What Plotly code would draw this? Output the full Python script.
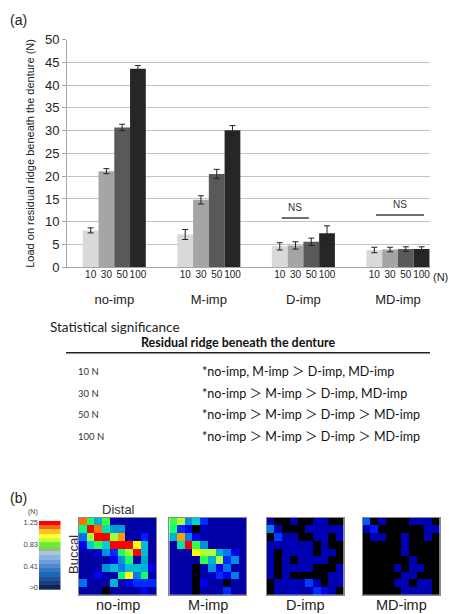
import numpy as np
import plotly.graph_objects as go

W, H = 449, 614

# ---------------- data: bar chart ----------------
groups = ['no-imp', 'M-imp', 'D-imp', 'MD-imp']
loads = ['10', '30', '50', '100']
load_colors = ['#d9d9d9', '#a5a5a5', '#595959', '#262626']
mean_10 = [8.1, 7.2, 4.6, 3.8]
mean_30 = [21.1, 14.8, 4.8, 3.9]
mean_50 = [30.7, 20.5, 5.6, 4.0]
mean_100 = [43.6, 30.1, 7.5, 4.0]
err_10 = [0.55, 1.1, 0.8, 0.6]
err_30 = [0.55, 0.9, 0.8, 0.5]
err_50 = [0.7, 1.0, 0.8, 0.5]
err_100 = [0.7, 1.0, 1.6, 0.5]
means = [mean_10, mean_30, mean_50, mean_100]
errs = [err_10, err_30, err_50, err_100]

# NS brackets: group index, left/right offset (category units), height (N)
ns_group = [2, 3]
ns_left = [-0.228, -0.233]
ns_right = [0.058, 0.275]
ns_height = [10.8, 11.5]

# ---------------- data: significance table ----------------
sig_loads = ['10 N', '30 N', '50 N', '100 N']
sig_text = ['*no-imp, M-imp \uff1e D-imp, MD-imp',
            '*no-imp \uff1e M-imp \uff1e D-imp, MD-imp',
            '*no-imp \uff1e M-imp \uff1e D-imp \uff1e MD-imp',
            '*no-imp \uff1e M-imp \uff1e D-imp \uff1e MD-imp']

# ---------------- data: pressure maps (N), rows top->bottom ----------------
map_no_imp = [
    [1.00, 0.55, 0.40, 0.60, 0.08, 0.06, 0.06, 0.06, 0.06, 0.06],
    [0.53, 1.20, 1.00, 0.48, 0.37, 0.37, 0.06, 0.06, 0.06, 0.06],
    [0.30, 0.68, 1.20, 1.20, 0.68, 0.93, 0.06, 0.06, 0.20, 0.06],
    [0.16, 0.45, 0.58, 0.45, 1.20, 1.20, 1.20, 0.80, 0.42, 0.06],
    [0.06, 0.06, 0.12, 0.35, 0.22, 0.55, 0.68, 1.20, 0.42, 0.06],
    [0.06, 0.06, 0.06, 0.06, 0.16, 0.35, 0.55, 0.06, 0.38, 0.06],
    [0.06, 0.06, 0.06, 0.35, 0.42, 0.32, 0.42, 0.42, 0.40, 0.14],
    [0.06, 0.06, 0.16, 0.06, 0.06, 0.53, 0.80, 0.32, 0.55, 0.06],
    [0.30, 0.06, 0.06, 0.06, 0.40, 0.06, 0.18, 0.22, 0.22, 0.22],
    [0.06, 0.06, 0.06, 0.00, 0.06, 0.06, 0.06, 0.06, 0.16, 0.06],
]
map_m_imp = [
    [0.60, 0.70, 0.35, 0.45, 0.22, 0.06, 0.06, 0.06, 0.06, 0.06],
    [0.55, 0.22, 0.16, 0.00, 0.08, 0.06, 0.06, 0.06, 0.06, 0.06],
    [0.40, 0.93, 0.32, 0.16, 0.06, 0.06, 0.06, 0.06, 0.06, 0.06],
    [0.06, 0.48, 1.20, 0.58, 0.35, 0.06, 0.06, 0.06, 0.06, 0.06],
    [0.06, 0.06, 0.06, 0.80, 0.70, 0.70, 0.40, 0.32, 0.16, 0.06],
    [0.06, 0.06, 0.06, 0.06, 0.58, 0.40, 0.70, 0.22, 0.35, 0.06],
    [0.06, 0.06, 0.06, 0.00, 0.06, 0.35, 0.16, 0.30, 0.06, 0.06],
    [0.06, 0.06, 0.06, 0.00, 0.06, 0.10, 0.22, 0.16, 0.32, 0.06],
    [0.06, 0.06, 0.06, 0.00, 0.16, 0.06, 0.06, 0.00, 0.06, 0.06],
    [0.06, 0.06, 0.06, 0.00, 0.06, 0.06, 0.06, 0.22, 0.06, 0.06],
]
map_d_imp = [
    [0.08, 0.00, 0.00, 0.08, 0.00, 0.00, 0.08, 0.08, 0.00, 0.00],
    [0.32, 0.08, 0.00, 0.00, 0.00, 0.08, 0.08, 0.08, 0.08, 0.08],
    [0.00, 0.24, 0.08, 0.08, 0.00, 0.00, 0.08, 0.08, 0.00, 0.08],
    [0.08, 0.08, 0.08, 0.08, 0.08, 0.08, 0.00, 0.08, 0.00, 0.00],
    [0.08, 0.00, 0.08, 0.08, 0.08, 0.08, 0.00, 0.08, 0.08, 0.00],
    [0.08, 0.00, 0.08, 0.00, 0.08, 0.08, 0.08, 0.08, 0.00, 0.00],
    [0.08, 0.00, 0.08, 0.08, 0.08, 0.08, 0.00, 0.00, 0.00, 0.08],
    [0.08, 0.00, 0.08, 0.00, 0.00, 0.00, 0.00, 0.00, 0.08, 0.08],
    [0.00, 0.08, 0.08, 0.10, 0.08, 0.24, 0.08, 0.00, 0.08, 0.08],
    [0.00, 0.08, 0.08, 0.10, 0.08, 0.08, 0.22, 0.16, 0.08, 0.00],
]
map_md_imp = [
    [0.27, 0.00, 0.08, 0.00, 0.00, 0.00, 0.08, 0.08, 0.08, 0.00],
    [0.08, 0.20, 0.00, 0.00, 0.00, 0.00, 0.00, 0.00, 0.08, 0.08],
    [0.00, 0.08, 0.08, 0.00, 0.00, 0.08, 0.00, 0.00, 0.08, 0.00],
    [0.00, 0.00, 0.00, 0.00, 0.00, 0.08, 0.00, 0.00, 0.00, 0.00],
    [0.00, 0.00, 0.00, 0.00, 0.00, 0.08, 0.00, 0.00, 0.00, 0.00],
    [0.00, 0.00, 0.00, 0.00, 0.00, 0.00, 0.08, 0.00, 0.00, 0.00],
    [0.00, 0.00, 0.00, 0.00, 0.08, 0.00, 0.08, 0.08, 0.00, 0.00],
    [0.00, 0.00, 0.00, 0.00, 0.00, 0.08, 0.08, 0.00, 0.00, 0.00],
    [0.00, 0.00, 0.00, 0.00, 0.08, 0.08, 0.00, 0.08, 0.08, 0.00],
    [0.00, 0.00, 0.00, 0.00, 0.00, 0.08, 0.08, 0.08, 0.08, 0.00],
]
maps = [map_no_imp, map_m_imp, map_d_imp, map_md_imp]
map_zmax = 1.25

# legend bar (bottom -> top) and its tick labels
legend_colors = ['#0c2754', '#183f78', '#1f529a', '#2166b4', '#3276c6', '#4f88d0',
                 '#6c9dd8', '#8ab2df', '#a6c4e3', '#8fc46a', '#66ee33', '#ccff33',
                 '#ffff33', '#ffc020', '#ec6a1c', '#ff0000']
legend_tickvals = [0, 0.41, 0.83, 1.25]
legend_ticktext = ['>0', '0.41', '0.83', '1.25']

heat_scale = [[0, '#000000'], [0.02, '#000000'], [0.02, '#000090'], [0.08, '#0000c0'],
              [0.14, '#0000ff'], [0.22, '#0060ff'], [0.30, '#00a0d0'], [0.36, '#00d0d0'],
              [0.42, '#00ff80'], [0.48, '#40ff40'], [0.56, '#b0ff30'], [0.64, '#ffff00'],
              [0.74, '#ffa000'], [0.84, '#ff5000'], [0.92, '#ff0000'], [1.0, '#ff0000']]


def px(x):
    return x / W


def py(y):
    return 1 - y / H


ARIAL = 'Liberation Sans, Arial, sans-serif'
CALIBRI = 'Lato, Carlito, Calibri, Noto Sans CJK JP, sans-serif'

fig = go.Figure()

# ---------------- bar chart ----------------
BARGAP = 1 / 3
bw = (1 - BARGAP) / len(loads)
for j, ld in enumerate(loads):
    fig.add_trace(go.Bar(
        x=groups, y=means[j], name=ld, marker_color=load_colors[j],
        marker_line_width=0,
        error_y=dict(type='data', array=errs[j], color='#222222', thickness=1, width=3),
        xaxis='x', yaxis='y', showlegend=False))

sub_vals = [i + (j - (len(loads) - 1) / 2) * bw for i in range(len(groups)) for j in range(len(loads))]
sub_text = [ld for _ in groups for ld in loads]
fig.add_trace(go.Scatter(x=sub_vals, y=[0] * len(sub_vals), mode='markers',
                         marker=dict(opacity=0), hoverinfo='skip', showlegend=False,
                         xaxis='x2', yaxis='y'))

XR = [-0.5, 3.339]
shapes = []
annotations = []
for g, l, r, h in zip(ns_group, ns_left, ns_right, ns_height):
    shapes.append(dict(type='line', xref='x', yref='y', x0=g + l, x1=g + r, y0=h, y1=h,
                       line=dict(color='#404040', width=1.5)))
    annotations.append(dict(x=g + (l + r) / 2, y=h, xref='x', yref='y', text='NS',
                            showarrow=False, yanchor='bottom', xanchor='center', yshift=3,
                            font=dict(family=ARIAL, size=10, color='#333333')))

# ---------------- heat maps ----------------
map_x0 = [79, 169.3, 266.7, 362.7]
map_w = 77
for k, m in enumerate(maps):
    ax = k + 3
    fig.add_trace(go.Heatmap(z=m, x=list(range(10)), y=list(range(10)), zmin=0, zmax=map_zmax,
                             colorscale=heat_scale, showscale=False,
                             xaxis='x%d' % ax, yaxis='y%d' % ax))
    annotations.append(dict(x=px(map_x0[k] + map_w / 2), y=py(604.5), xref='paper', yref='paper',
                            text=groups[k], showarrow=False, xanchor='center',
                            font=dict(family=ARIAL, size=14.5, color='#222222')))

# legend bar
n_leg = len(legend_colors)
leg_scale = []
for i, c in enumerate(legend_colors):
    leg_scale.append([i / n_leg, c])
    leg_scale.append([(i + 1) / n_leg, c])
leg_y = list(np.linspace(0, 1.25, n_leg))
fig.add_trace(go.Heatmap(z=[[i] for i in range(n_leg)], x=[0], y=leg_y, zmin=-0.5, zmax=n_leg - 0.5,
                         colorscale=leg_scale, showscale=False, xaxis='x7', yaxis='y7'))

# ---------------- text annotations ----------------
annotations += [
    dict(x=px(8), y=py(20), text='(a)', xanchor='left', font=dict(family=ARIAL, size=14, color='#222')),
    dict(x=px(431), y=py(277), text='(N)', xanchor='left', font=dict(family=ARIAL, size=11, color='#222')),
    dict(x=px(48), y=py(327), text='Statistical significance', xanchor='left',
         font=dict(family=CALIBRI, size=13.5, color='#222')),
    dict(x=px(238.5), y=py(342.5), text='<b>Residual ridge beneath the denture</b>', xanchor='center',
         font=dict(family=CALIBRI, size=12.5, color='#111')),
    dict(x=px(8), y=py(498), text='(b)', font=dict(family=ARIAL, size=14, color='#222'), xanchor='left'),
    dict(x=px(33), y=py(512), text='(N)', xanchor='center', font=dict(family=ARIAL, size=7, color='#444')),
    dict(x=px(118), y=py(509), text='Distal', xanchor='center', font=dict(family=ARIAL, size=13, color='#333')),
    dict(x=px(73), y=py(555), text='Buccal', xanchor='center', textangle=-90,
         font=dict(family=ARIAL, size=13, color='#333')),
]
for i, (lab, txt) in enumerate(zip(sig_loads, sig_text)):
    yy = 371.7 + i * 21.5
    annotations.append(dict(x=px(76), y=py(yy), text=lab, xanchor='left',
                            font=dict(family=CALIBRI, size=9.5, color='#333')))
    annotations.append(dict(x=px(200), y=py(yy), text=txt, xanchor='left',
                            font=dict(family=CALIBRI, size=12.5, color='#111')))
for a in annotations:
    a.setdefault('xref', 'paper')
    a.setdefault('yref', 'paper')
    a.setdefault('showarrow', False)
    a.setdefault('yanchor', 'middle')

shapes.append(dict(type='line', xref='paper', yref='paper', x0=px(66), x1=px(430),
                   y0=py(352.7), y1=py(352.7), line=dict(color='#222', width=1.5)))

layout = dict(
    width=W, height=H, margin=dict(l=0, r=0, t=0, b=0, autoexpand=False),
    paper_bgcolor='white', plot_bgcolor='white',
    barmode='group', bargap=BARGAP, bargroupgap=0,
    showlegend=False,
    annotations=annotations, shapes=shapes,
    xaxis=dict(domain=[px(67), px(430)], type='category', range=XR, anchor='y',
               showline=True, linecolor='#a6a6a6', linewidth=1, ticks='', tickangle=0,
               tickfont=dict(family=ARIAL, size=13, color='#222'), ticklabelstandoff=20,
               showgrid=False, zeroline=False),
    xaxis2=dict(overlaying='x', anchor='y', range=XR, tickmode='array', tickvals=sub_vals,
                ticktext=sub_text, ticks='', tickangle=0, showgrid=False, zeroline=False, showline=False,
                tickfont=dict(family=ARIAL, size=10, color='#222')),
    yaxis=dict(domain=[py(267.3), py(39.5)], range=[0, 50], dtick=5, anchor='x',
               showgrid=True, gridcolor='#c3c3c3', gridwidth=1.3, zeroline=False,
               showline=True, linecolor='#a6a6a6', ticks='outside', ticklen=4, tickcolor='#a6a6a6',
               tickfont=dict(family=ARIAL, size=13, color='#222'),
               title=dict(text='Load on residual ridge beneath the denture (N)', standoff=8,
                          font=dict(family=ARIAL, size=11, color='#222'))),
    xaxis7=dict(domain=[px(39), px(60.5)], anchor='y7', showticklabels=False, ticks='',
                showgrid=False, zeroline=False, showline=False),
    yaxis7=dict(domain=[py(590), py(520.7)], anchor='x7',
                range=[-1.25 / (2 * (n_leg - 1)), 1.25 + 1.25 / (2 * (n_leg - 1))],
                tickmode='array', tickvals=legend_tickvals, ticktext=legend_ticktext, ticks='',
                showgrid=False, zeroline=False, showline=False,
                tickfont=dict(family=ARIAL, size=7.5, color='#444')),
)
for k in range(4):
    ax = k + 3
    layout['xaxis%d' % ax] = dict(domain=[px(map_x0[k]), px(map_x0[k] + map_w)], anchor='y%d' % ax,
                                  range=[-0.5, 9.5], showticklabels=False, ticks='', showgrid=False,
                                  zeroline=False, showline=True, mirror=True, linecolor='#888',
                                  linewidth=1)
    layout['yaxis%d' % ax] = dict(domain=[py(595), py(517.7)], anchor='x%d' % ax,
                                  range=[9.5, -0.5], showticklabels=False, ticks='', showgrid=False,
                                  zeroline=False, showline=True, mirror=True, linecolor='#888',
                                  linewidth=1)

fig.update_layout(**layout)
fig.write_html('out.html')
